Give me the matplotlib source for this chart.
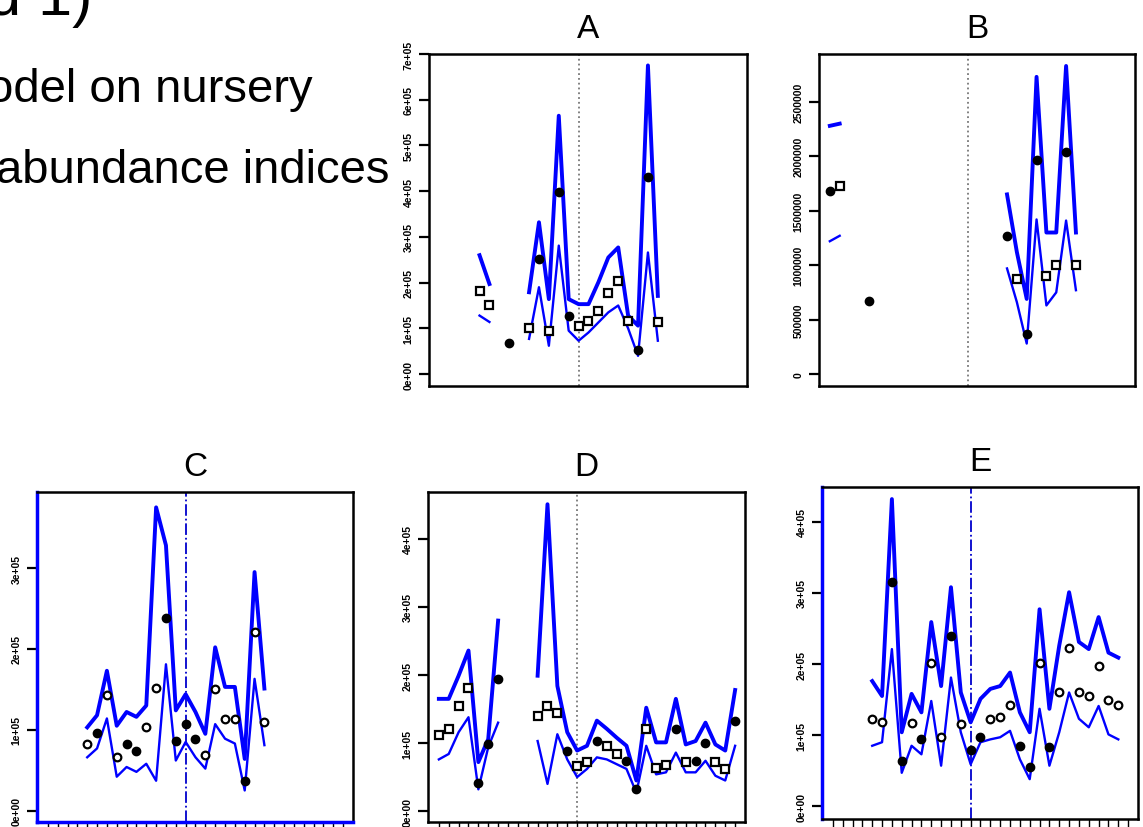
import numpy as np
import matplotlib
matplotlib.use("Agg")
import matplotlib.pyplot as plt

plt.rcParams['font.family'] = ['Liberation Sans', 'DejaVu Sans']

N = None
years = np.arange(31)

# panel A (units of 1e5)
a_obs = [N, N, N, N, 1.82, 1.52, N, 0.68, N, 1.01, 2.52, 0.95, 3.99, 1.26, 1.06, 1.16,
         1.37, 1.77, 2.03, 1.16, 0.53, 4.30, 1.15, N, N, N, N, N, N, N, N]
a_up = [N, N, N, N, 2.60, 1.97, N, N, N, 1.79, 3.32, 1.64, 5.65, 1.64, 1.53, 1.53,
        2.01, 2.55, 2.77, 1.28, 1.06, 6.75, 1.71, N, N, N, N, N, N, N, N]
a_lo = [N, N, N, N, 1.28, 1.14, N, N, N, 0.77, 1.90, 0.62, 2.81, 0.95, 0.73, 0.91,
        1.13, 1.35, 1.50, 1.00, 0.40, 2.66, 0.73, N, N, N, N, N, N, N, N]
a_fill = [7, 10, 12, 13, 20, 21]

# panel B (units of 1e6)
b_obs = [1.68, 1.73, N, N, 0.67, N, N, N, N, N, N, N, N, N, N, N,
         N, N, 1.27, 0.87, 0.37, 1.97, 0.90, 1.00, 2.04, 1.00, N, N, N, N, N]
b_up = [2.28, 2.30, N, N, N, N, N, N, N, N, N, N, N, N, N, N,
        N, N, 1.65, 1.12, 0.69, 2.73, 1.30, 1.30, 2.83, 1.30, N, N, N, N, N]
b_lo = [1.22, 1.27, N, N, N, N, N, N, N, N, N, N, N, N, N, N,
        N, N, 0.97, 0.66, 0.28, 1.42, 0.63, 0.75, 1.41, 0.77, N, N, N, N, N]
b_fill = [0, 4, 18, 20, 21, 24]

# panel C (units of 1e5)
c_obs = [N, N, N, N, 0.83, 0.96, 1.43, 0.66, 0.82, 0.74, 1.03, 1.52, 2.38, 0.86, 1.07, 0.89,
         0.69, 1.50, 1.13, 1.13, 0.37, 2.21, 1.10, N, N, N, N, N, N, N, N]
c_up = [N, N, N, N, 1.03, 1.18, 1.73, 1.05, 1.22, 1.16, 1.30, 3.75, 3.28, 1.24, 1.44, 1.22,
        0.95, 2.02, 1.53, 1.53, 0.64, 2.95, 1.51, N, N, N, N, N, N, N, N]
c_lo = [N, N, N, N, 0.66, 0.77, 1.14, 0.42, 0.54, 0.48, 0.58, 0.37, 1.81, 0.62, 0.85, 0.66,
        0.52, 1.07, 0.89, 0.83, 0.25, 1.63, 0.81, N, N, N, N, N, N, N, N]
c_fill = [5, 8, 9, 12, 13, 14, 15, 20]

# panel D (units of 1e5)
d_obs = [1.12, 1.20, 1.54, 1.81, 0.42, 0.98, 1.94, N, N, N, 1.40, 1.54, 1.44, 0.89, 0.66, 0.72,
         1.03, 0.96, 0.84, 0.74, 0.33, 1.20, 0.64, 0.68, 1.21, 0.72, 0.73, 1.00, 0.72, 0.62, 1.33]
d_up = [1.65, 1.65, 1.99, 2.36, 0.72, 1.06, 2.80, N, N, N, 1.99, 4.51, 1.84, 1.16, 0.89, 0.96,
        1.33, 1.21, 1.08, 0.96, 0.45, 1.52, 1.01, 1.01, 1.65, 0.98, 1.03, 1.30, 0.98, 0.89, 1.78]
d_lo = [0.76, 0.84, 1.16, 1.38, 0.32, 0.94, 1.30, N, N, N, 1.03, 0.40, 1.13, 0.76, 0.50, 0.62,
        0.79, 0.76, 0.69, 0.62, 0.27, 0.96, 0.54, 0.57, 0.86, 0.57, 0.57, 0.74, 0.52, 0.45, 0.96]
d_fill = [4, 5, 6, 13, 16, 19, 20, 24, 26, 27, 30]

# panel E (units of 1e5)
e_obs = [N, N, N, N, 1.22, 1.19, 3.15, 0.64, 1.17, 0.95, 2.01, 0.98, 2.40, 1.15, 0.79, 0.97,
         1.22, 1.25, 1.42, 0.85, 0.55, 2.02, 0.83, 1.61, 2.22, 1.60, 1.55, 1.97, 1.50, 1.42, N]
e_up = [N, N, N, N, 1.76, 1.55, 4.32, 1.04, 1.58, 1.32, 2.59, 1.69, 3.08, 1.60, 1.18, 1.51,
        1.65, 1.69, 1.88, 1.32, 1.04, 2.77, 1.37, 2.26, 3.01, 2.31, 2.21, 2.66, 2.16, 2.09, N]
e_lo = [N, N, N, N, 0.85, 0.90, 2.21, 0.47, 0.85, 0.73, 1.48, 0.57, 1.81, 1.04, 0.59, 0.90,
        0.94, 0.97, 1.06, 0.66, 0.38, 1.37, 0.57, 1.04, 1.60, 1.23, 1.11, 1.41, 1.01, 0.94, N]
e_fill = [6, 7, 9, 12, 14, 15, 19, 20, 22]

a_ticks = [0, 1, 2, 3, 4, 5, 6, 7]
a_labels = ["0e+00", "1e+05", "2e+05", "3e+05", "4e+05", "5e+05", "6e+05", "7e+05"]
b_ticks = [0, 0.5, 1.0, 1.5, 2.0, 2.5]
b_labels = ["0", "500000", "1000000", "1500000", "2000000", "2500000"]
c_ticks = [0, 1, 2, 3]
c_labels = ["0e+00", "1e+05", "2e+05", "3e+05"]
d_ticks = [0, 1, 2, 3, 4]
d_labels = ["0e+00", "1e+05", "2e+05", "3e+05", "4e+05"]
e_ticks = d_ticks
e_labels = d_labels

W, H = 1143, 828
fig = plt.figure(figsize=(W / 100, H / 100), dpi=100)

# slide text, cut off at the left edge
fig.text(92 / W, 1 - 15 / H, "d 1)", fontsize=44, ha="right", va="baseline")
fig.text(313 / W, 1 - 102 / H, "odel on nursery", fontsize=34, ha="right", va="baseline")
fig.text(390 / W, 1 - 183 / H, "abundance indices", fontsize=34, ha="right", va="baseline")


def panel(box, title, obs, up, lo, fill, ticks, labels, ylim, marker, vstyle, blue_spines):
    l, t, r, b = box
    ax = fig.add_axes([l / W, 1 - b / H, (r - l) / W, (b - t) / H])
    obs = np.array(obs, dtype=float)
    up = np.array(up, dtype=float)
    lo = np.array(lo, dtype=float)
    ax.plot(years, up, color="#0000ff", lw=2.8, zorder=3)
    ax.plot(years, lo, color="#0000ff", lw=1.7, zorder=3)
    if vstyle == "blue":
        ax.axvline(14, color="#0000cc", ls="-.", lw=1.3, zorder=1)
    else:
        ax.axvline(14, color="#777777", ls=":", lw=1.3, zorder=1)
    mask = np.isin(years, fill)
    ax.plot(years[~mask], obs[~mask], ls="none", marker=marker, ms=5.5,
            mfc="white", mec="black", mew=1.6, zorder=4)
    ax.plot(years[mask], obs[mask], ls="none", marker="o", ms=6,
            mfc="black", mec="black", zorder=4)
    ax.set_xlim(-1.1, 31.0)
    ax.set_ylim(*ylim)
    ax.set_yticks(ticks)
    ax.set_yticklabels(labels, rotation=90, va="center", fontsize=7.5, fontweight="bold")
    ax.tick_params(axis="y", length=7, width=1.6, pad=4)
    if t > 400:
        ax.set_xticks(years)
        ax.set_xticklabels([])
        ax.tick_params(axis="x", length=6, width=1)
    else:
        ax.set_xticks([])
    for s in ax.spines.values():
        s.set_linewidth(1.8)
    for s in blue_spines:
        ax.spines[s].set_color("#0000ff")
        ax.spines[s].set_linewidth(2.5)
    ax.set_title(title, fontsize=24, pad=12)
    return ax


panel((429, 55, 747, 387), "A", a_obs, a_up, a_lo, a_fill, a_ticks, a_labels,
      (-0.26, 7.0), "s", "grey", [])
panel((819, 55, 1135, 387), "B", b_obs, b_up, b_lo, b_fill, b_ticks, b_labels,
      (-0.11, 2.94), "s", "grey", [])
panel((37, 493, 353, 823), "C", c_obs, c_up, c_lo, c_fill, c_ticks, c_labels,
      (-0.14, 3.94), "o", "blue", ["left", "bottom"])
panel((428, 493, 745, 823), "D", d_obs, d_up, d_lo, d_fill, d_ticks, d_labels,
      (-0.16, 4.69), "s", "grey", [])
panel((822, 488, 1138, 820), "E", e_obs, e_up, e_lo, e_fill, e_ticks, e_labels,
      (-0.18, 4.49), "o", "blue", ["left"])

fig.savefig("out.png", dpi=100)
